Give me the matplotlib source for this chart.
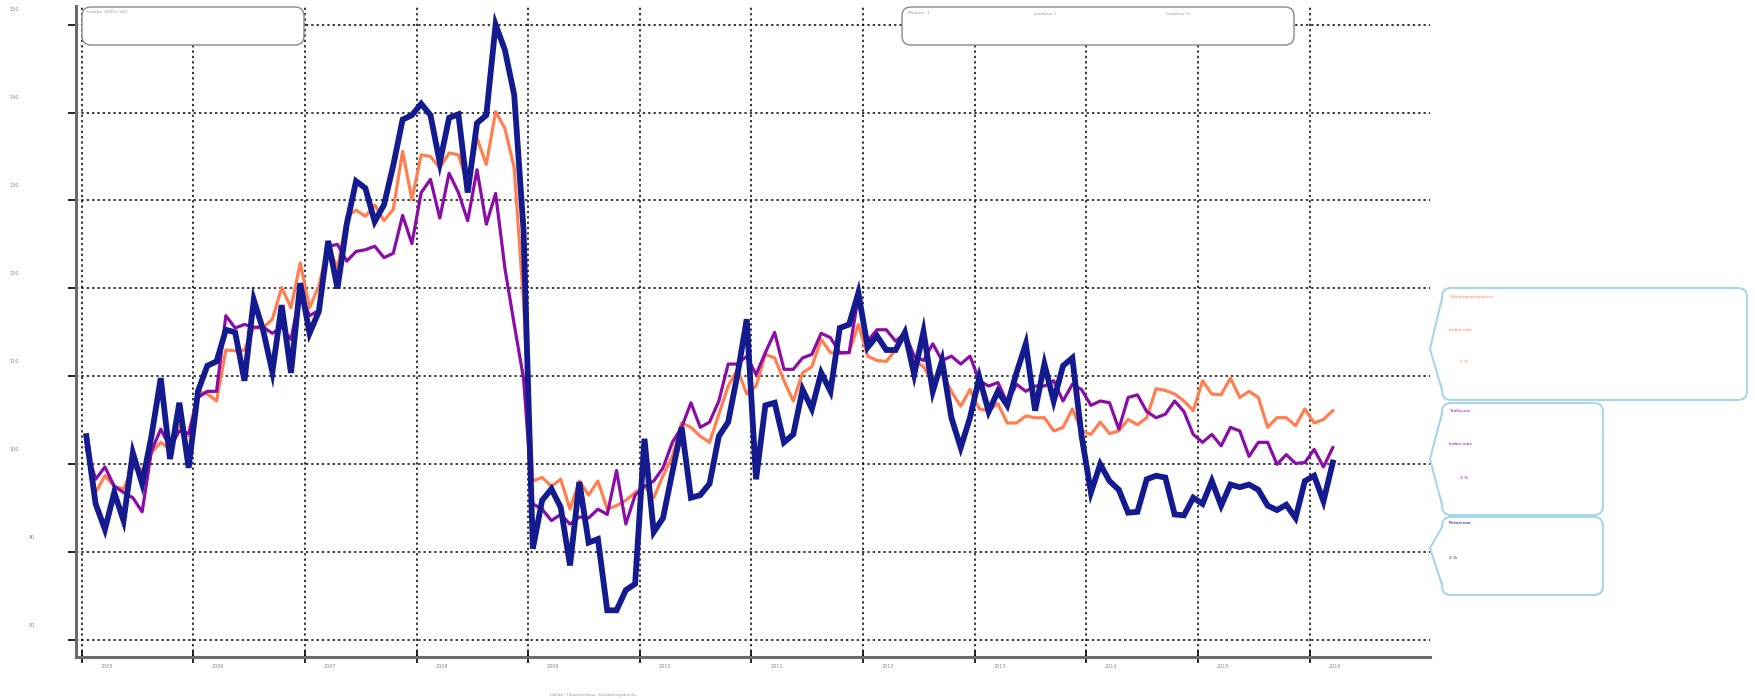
import numpy as np
import pandas as pd
import matplotlib
matplotlib.use("Agg")
import matplotlib.pyplot as plt
from matplotlib.patches import FancyBboxPatch, Polygon
from matplotlib.transforms import ScaledTranslation

W, H = 1755, 699

# monthly index values, Jan 2005 - Mar 2016 (2005=100)
pirkanmaa = [103.2, 95.5, 92.6, 96.8, 93.6, 101.3, 97.8, 103.2, 109.8, 100.6, 107.0, 99.6,
             108.3, 111.2, 111.7, 115.3, 115.0, 109.5, 118.7, 115.3, 110.5, 118.1, 110.4, 120.6,
             114.9, 117.4, 125.4, 120.0, 127.3, 132.2, 131.4, 127.6, 129.5, 134.0, 139.2, 139.7,
             141.0, 139.7, 134.3, 139.4, 139.8, 130.9, 138.8, 139.7, 150.0, 147.1, 142.0, 126.7,
             90.4, 95.9, 97.2, 95.1, 88.5, 98.0, 91.1, 91.5, 83.4, 83.4, 85.7, 86.4,
             102.9, 92.3, 93.9, 99.1, 104.2, 96.2, 96.5, 97.8, 103.2, 104.8, 110.2, 116.5,
             98.3, 106.7, 107.0, 102.5, 103.4, 108.5, 106.3, 110.4, 108.3, 115.5, 115.9, 119.5,
             113.3, 114.6, 113.0, 113.0, 115.0, 110.2, 115.1, 108.3, 111.8, 105.3, 101.9, 105.3,
             109.9, 106.0, 108.3, 106.7, 110.4, 113.7, 106.1, 111.4, 107.2, 111.2, 112.1, 103.2,
             96.8, 100.0, 98.1, 97.1, 94.5, 94.6, 98.3, 98.7, 98.5, 94.3, 94.2, 96.2,
             95.5, 98.1, 95.3, 97.7, 97.4, 97.7, 97.1, 95.3, 94.8, 95.4, 93.9, 98.1,
             98.7, 95.8, 100.2]
teknologia = [101.9, 96.8, 98.7, 97.5, 97.2, 99.6, 99.4, 101.3, 102.5, 101.7, 104.4, 103.2,
              108.3, 108.0, 107.2, 113.0, 112.9, 113.0, 115.5, 115.5, 116.5, 120.1, 117.8, 122.9,
              117.8, 120.3, 124.8, 122.3, 128.2, 128.9, 128.2, 129.5, 127.7, 129.0, 135.6, 130.1,
              135.2, 135.0, 133.7, 135.4, 135.2, 131.8, 137.1, 134.1, 140.1, 138.2, 133.7, 118.4,
              98.1, 98.5, 97.5, 98.3, 94.9, 98.1, 96.5, 98.1, 94.9, 95.3, 95.9, 96.8,
              97.5, 96.2, 98.7, 100.9, 104.7, 104.2, 103.2, 102.5, 105.7, 108.9, 110.8, 108.0,
              108.9, 112.5, 112.1, 109.5, 107.2, 110.4, 111.1, 114.2, 112.7, 112.6, 112.7, 115.9,
              112.3, 111.8, 111.7, 113.0, 115.3, 111.8, 111.1, 109.3, 110.4, 108.3, 106.6, 108.5,
              106.3, 106.1, 106.9, 104.7, 104.7, 105.5, 105.3, 105.3, 103.8, 104.2, 106.3, 103.8,
              103.4, 104.8, 103.5, 103.8, 105.1, 104.5, 105.3, 108.6, 108.4, 108.0, 107.2, 106.1,
              109.5, 108.0, 107.9, 109.8, 107.6, 108.3, 107.6, 104.2, 105.3, 105.3, 104.4, 106.3,
              104.7, 105.1, 106.1]
teollisuus = [101.9, 98.3, 99.7, 97.5, 96.8, 96.2, 94.6, 101.5, 104.0, 101.9, 103.8, 103.5,
              107.6, 108.3, 108.3, 116.9, 115.5, 115.9, 115.6, 115.6, 114.9, 115.6, 114.2, 119.5,
              116.9, 117.5, 124.8, 125.0, 123.1, 124.2, 124.4, 124.8, 123.5, 124.0, 128.3, 125.1,
              130.9, 132.4, 128.0, 133.1, 130.9, 127.7, 133.5, 127.3, 130.8, 122.3, 115.9, 109.8,
              95.5, 94.9, 93.6, 94.3, 93.2, 94.0, 93.9, 94.9, 94.3, 99.3, 93.2, 96.5,
              97.5, 98.1, 99.6, 102.5, 104.2, 107.0, 104.2, 104.8, 107.2, 111.4, 111.4, 112.3,
              110.2, 112.7, 115.0, 110.8, 110.8, 112.1, 112.5, 114.9, 114.4, 112.7, 112.7, 119.1,
              114.0, 115.3, 115.3, 114.0, 114.9, 112.3, 111.8, 113.7, 111.8, 112.3, 111.4, 112.3,
              109.5, 108.9, 109.3, 107.0, 109.1, 108.3, 108.9, 108.9, 109.5, 107.2, 109.1, 108.5,
              106.7, 107.2, 107.0, 104.0, 107.6, 107.9, 106.0, 105.3, 105.7, 107.2, 106.0, 103.4,
              102.5, 103.4, 102.1, 104.2, 103.8, 100.9, 102.5, 102.5, 100.0, 101.1, 100.1, 100.2,
              101.7, 99.7, 101.9]

years = list(range(2005, 2017))
yticks = list(range(80, 151, 10))

c_navy = "#141B8F"
c_orange = "#FF7F50"
c_purple = "#8A0DA6"
c_box = "#A8D6E6"

months = pd.date_range("2005-01-01", periods=len(pirkanmaa), freq="MS")
x = months.year + (months.month - 0.5) / 12

fig = plt.figure(figsize=(W / 100, H / 100), dpi=100)
ax = fig.add_axes([76.1 / W, 1 - 657 / H, (1430.4 - 76.1) / W, (657 - 5.6) / H])

ax.plot(x, teknologia, color=c_orange, lw=2.3, zorder=3)
ax.plot(x, teollisuus, color=c_purple, lw=2.3, zorder=3)
ax.plot(x, pirkanmaa, color=c_navy, lw=4.2, zorder=4, solid_joinstyle="miter")

ax.set_xlim(2004.95, 2017.083)
ax.set_ylim(78.09, 152.16)
ax.set_xticks(years)
ax.set_xticklabels([str(y) for y in years])
ax.set_yticks(yticks)
ax.set_yticklabels([str(v) for v in yticks])
ax.grid(True, color="black", linestyle=(0, (1.5, 2)), lw=1.1, zorder=1)

for s in ["top", "right"]:
    ax.spines[s].set_visible(False)
for s in ["left", "bottom"]:
    ax.spines[s].set_color("#6b6b6b")
    ax.spines[s].set_linewidth(2.2)

ax.tick_params(axis="y", direction="out", length=6, width=1.2, color="black",
               labelsize=3.5, labelcolor="#888888", pad=2)
ax.tick_params(axis="x", direction="inout", length=8, width=1.2, color="black",
               labelsize=3.5, labelcolor="#888888", pad=1)

# odd label placement of the original
for lab in ax.get_yticklabels():
    dx = -46 if len(lab.get_text()) == 3 else -30
    lab.set_transform(lab.get_transform() + ScaledTranslation(dx / 100, 15.5 / 100, fig.dpi_scale_trans))
for lab in ax.get_xticklabels():
    lab.set_transform(lab.get_transform() + ScaledTranslation(25 / 100, 0, fig.dpi_scale_trans))

inch = fig.dpi_scale_trans


def px(xp, yp):
    return xp / 100, (H - yp) / 100


def rbox(x0, y0, x1, y1, ec, lw=1.0):
    bx, by = px(x0, y1)
    p = FancyBboxPatch((bx, by), (x1 - x0) / 100, (y1 - y0) / 100,
                       boxstyle="round,pad=0,rounding_size=0.09",
                       transform=inch, fc="white", ec=ec, lw=lw, zorder=5)
    fig.patches.append(p)


def callout(x0, y0, x1, y1, tip, ec):
    rbox(x0, y0, x1, y1, ec, lw=1.5)
    a, b = y0 + 10, y1 - 10
    tri = Polygon([px(x0 + 1.5, a), px(*tip), px(x0 + 1.5, b)], closed=True,
                  transform=inch, fc="white", ec="none", zorder=6)
    fig.patches.append(tri)
    fig.lines.append(plt.Line2D(*zip(px(x0, a), px(*tip), px(x0, b)), transform=inch,
                                color=ec, lw=1.5, zorder=7))


def ftext(xp, yp, s, color="#999999", size=3.2):
    fig.text(xp / W, 1 - yp / H, s, color=color, fontsize=size, va="center", ha="left", zorder=8)


# top boxes
rbox(82, 7, 304, 45, "#888888")
ftext(87, 12, "Indeksi 2005=100")
rbox(902, 7, 1294, 45, "#888888")
ftext(908, 13, "Muutos: 1")
ftext(1034, 14, "Luokitus 1")
ftext(1166, 14, "Luokitus %")

# right callouts
callout(1442, 288, 1747, 400, (1430, 349), c_box)
ftext(1449, 297, "Teknologiateollisuus", c_orange)
ftext(1449, 330, "Index max", c_orange)
ftext(1460, 362, "3 %", c_orange)

callout(1442, 403, 1603, 515, (1430, 459), c_box)
ftext(1449, 411, "Teollisuus", c_purple)
ftext(1449, 444, "Index max", c_purple)
ftext(1460, 478, "2 %", c_purple)

callout(1442, 517, 1603, 595, (1430, 548), c_box)
ftext(1449, 523, "Pirkanmaa", c_navy)
ftext(1449, 558, "2 %", c_navy)

fig.text(593 / W, 1 - 695 / H, "Lähde: Tilastokeskus, Suhdannepalvelu", color="#999999",
         fontsize=3.2, ha="center", va="center")

fig.savefig("out.png", dpi=100)
